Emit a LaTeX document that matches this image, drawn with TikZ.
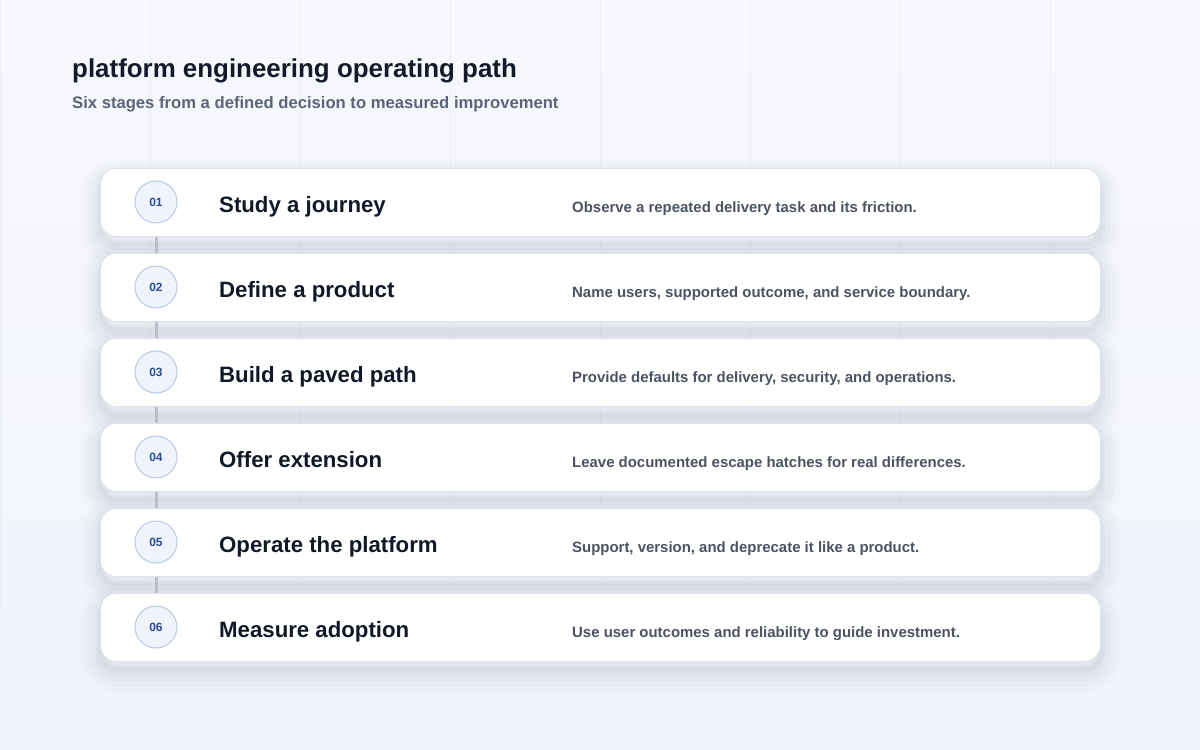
\documentclass[tikz,border=0pt]{standalone}
\usepackage{fontspec}
\setmainfont{Liberation Sans}
\usepackage{tikz}

\definecolor{bgtop}{HTML}{F7F8FB}
\definecolor{bgbot}{HTML}{EFF3FA}
\definecolor{gridcol}{HTML}{ECEFF5}
\definecolor{titlecol}{HTML}{131A2B}
\definecolor{subcol}{HTML}{5B6577}
\definecolor{cardline}{HTML}{DCE1EA}
\definecolor{dotfill}{HTML}{EEF3FC}
\definecolor{dotline}{HTML}{B9C9E4}
\definecolor{numcol}{HTML}{2B4C96}
\definecolor{stagecol}{HTML}{111827}
\definecolor{desccol}{HTML}{4B5363}
\definecolor{linkcol}{HTML}{BBBEC6}
\definecolor{shadecol}{HTML}{7A84A0}

\begin{document}
\begin{tikzpicture}[x=1bp,y=-1bp,
	card/.style={rectangle,rounded corners=16bp,draw=cardline,line width=0.8bp,fill=white,
		minimum width=1000bp,minimum height=68bp,anchor=north west,
		preaction={draw=shadecol,line width=40bp,opacity=0.025,transform canvas={yshift=-11bp}},
		preaction={draw=shadecol,line width=30bp,opacity=0.035,transform canvas={yshift=-10bp}},
		preaction={draw=shadecol,line width=20bp,opacity=0.045,transform canvas={yshift=-10bp}},
		preaction={draw=shadecol,line width=10bp,opacity=0.055,transform canvas={yshift=-9bp}},
		preaction={draw=shadecol,line width=4bp,opacity=0.05,transform canvas={yshift=-8bp}}},
	dot/.style={shape=circle,draw=dotline,line width=1bp,fill=dotfill,minimum size=42bp,inner sep=0pt,
		font=\fontsize{12}{14}\selectfont\bfseries,text=numcol},
	stage/.style={anchor=base west,inner sep=0pt,font=\fontsize{22.3}{26}\selectfont\bfseries,text=stagecol},
	desc/.style={anchor=base west,inner sep=0pt,font=\fontsize{15}{18}\selectfont\bfseries,text=desccol},
	link/.style={draw=linkcol,line width=3bp}]

	\shade[top color=bgtop,bottom color=bgbot] (0,0) rectangle (1200,750);
	\useasboundingbox (0,0) rectangle (1200,750);
	\draw[gridcol,line width=0.8bp,xstep=150,ystep=125] (0,0) grid (1200,750);

	\node[anchor=base west,inner sep=0pt,font=\fontsize{26}{30}\selectfont\bfseries,text=titlecol] (title) at (72,78) {platform engineering operating path};
	\node[anchor=base west,inner sep=0pt,font=\fontsize{16.7}{20}\selectfont\bfseries,text=subcol] (subtitle) at (72,109) {Six stages from a defined decision to measured improvement};

	\node[card] (s1) at (100,168) {};
	\node[card] (s2) at (100,253) {};
	\node[card] (s3) at (100,338) {};
	\node[card] (s4) at (100,423) {};
	\node[card] (s5) at (100,508) {};
	\node[card] (s6) at (100,593) {};

	\node[dot] (n1) at (156,202) {01};
	\node[dot] (n2) at (156,287) {02};
	\node[dot] (n3) at (156,372) {03};
	\node[dot] (n4) at (156,457) {04};
	\node[dot] (n5) at (156,542) {05};
	\node[dot] (n6) at (156,627) {06};

	\path[link] (s1.south -| n1) -- (s2.north -| n2);
	\path[link] (s2.south -| n2) -- (s3.north -| n3);
	\path[link] (s3.south -| n3) -- (s4.north -| n4);
	\path[link] (s4.south -| n4) -- (s5.north -| n5);
	\path[link] (s5.south -| n5) -- (s6.north -| n6);

	\node[stage] (t1) at (219,212) {Study a journey};
	\node[stage] (t2) at (219,297) {Define a product};
	\node[stage] (t3) at (219,382) {Build a paved path};
	\node[stage] (t4) at (219,467) {Offer extension};
	\node[stage] (t5) at (219,552) {Operate the platform};
	\node[stage] (t6) at (219,637) {Measure adoption};

	\node[desc] (d1) at (572,212) {Observe a repeated delivery task and its friction.};
	\node[desc] (d2) at (572,297) {Name users, supported outcome, and service boundary.};
	\node[desc] (d3) at (572,382) {Provide defaults for delivery, security, and operations.};
	\node[desc] (d4) at (572,467) {Leave documented escape hatches for real differences.};
	\node[desc] (d5) at (572,552) {Support, version, and deprecate it like a product.};
	\node[desc] (d6) at (572,637) {Use user outcomes and reliability to guide investment.};
\end{tikzpicture}
\end{document}
